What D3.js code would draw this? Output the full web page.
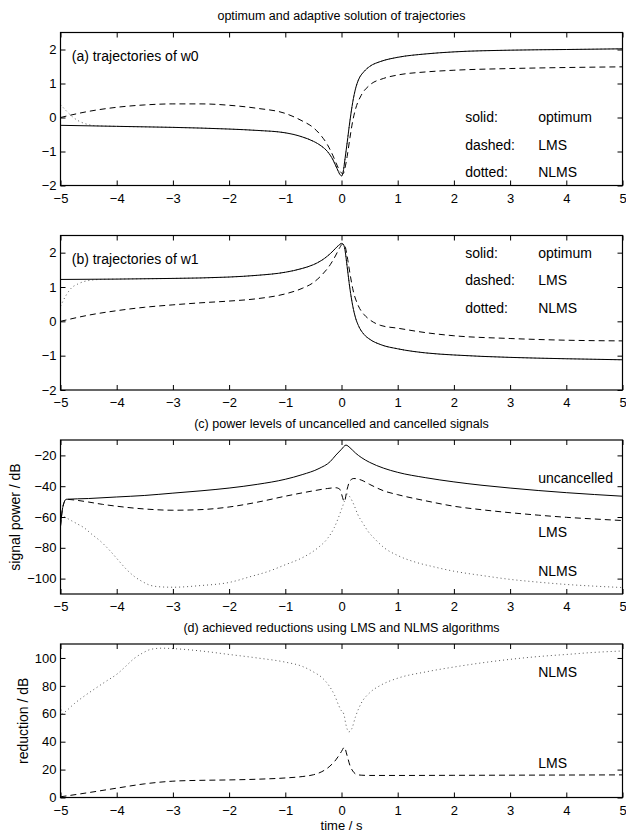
<!DOCTYPE html>
<html>
<head>
<meta charset="utf-8">
<script src="https://cdn.jsdelivr.net/npm/d3@7"></script>
<style>
  html, body { margin: 0; padding: 0; background: #fff; }
  svg { display: block; font-family: "Liberation Sans", Arial, Helvetica, sans-serif; }
</style>
</head>
<body>
<svg id="chart" width="626" height="833"></svg>
<script>
// ---------------- DATA ----------------
const xTicks = [-5, -4, -3, -2, -1, 0, 1, 2, 3, 4, 5];
const wTicks = [-2, -1, 0, 1, 2];
const powerTicks = [-100, -80, -60, -40, -20];
const reductionTicks = [0, 20, 40, 60, 80, 100];

// (a) w0
const tW0opt = [-5, -4, -3, -2, -1.5, -1, -0.7, -0.5, -0.35, -0.25, -0.15, -0.08, -0.03, 0, 0.03, 0.06, 0.1, 0.15, 0.2, 0.25, 0.3, 0.4, 0.5, 0.7, 1, 1.5, 2, 3, 4, 5];
const w0Opt  = [-0.23, -0.26, -0.29, -0.34, -0.38, -0.45, -0.57, -0.7, -0.85, -1.0, -1.25, -1.5, -1.67, -1.72, -1.6, -1.25, -0.75, -0.1, 0.45, 0.85, 1.1, 1.35, 1.5, 1.65, 1.77, 1.87, 1.93, 1.98, 2.0, 2.02];
const tW0lms = [-5, -4.5, -4, -3.5, -3, -2.5, -2, -1.5, -1, -0.7, -0.5, -0.36, -0.25, -0.15, -0.08, -0.02, 0.03, 0.06, 0.1, 0.15, 0.2, 0.25, 0.35, 0.5, 0.75, 1, 1.5, 2, 3, 4, 5];
const w0Lms  = [0.0, 0.18, 0.3, 0.37, 0.4, 0.4, 0.36, 0.27, 0.12, -0.1, -0.3, -0.54, -0.8, -1.13, -1.4, -1.6, -1.65, -1.5, -1.15, -0.6, -0.1, 0.25, 0.65, 0.95, 1.15, 1.25, 1.34, 1.39, 1.44, 1.47, 1.49];
const tW0nlms = [-5, -4.9, -4.8, -4.7, -4.6, -4.5, -4.4, -4, -3, -2, -1.5, -1, -0.7, -0.5, -0.35, -0.25, -0.15, -0.08, -0.03, 0, 0.03, 0.06, 0.1, 0.15, 0.2, 0.25, 0.3, 0.4, 0.5, 0.7, 1, 1.5, 2, 3, 4, 5];
const w0Nlms  = [0.38, 0.2, 0.04, -0.08, -0.16, -0.21, -0.24, -0.26, -0.29, -0.34, -0.38, -0.45, -0.57, -0.7, -0.85, -1.0, -1.25, -1.5, -1.67, -1.72, -1.6, -1.25, -0.75, -0.1, 0.45, 0.85, 1.1, 1.35, 1.5, 1.65, 1.77, 1.87, 1.93, 1.98, 2.0, 2.02];

// (b) w1
const tW1opt = [-5, -4, -3, -2, -1.5, -1, -0.7, -0.5, -0.35, -0.25, -0.15, -0.08, -0.03, 0, 0.03, 0.06, 0.1, 0.15, 0.2, 0.25, 0.3, 0.4, 0.5, 0.7, 1, 1.5, 2, 3, 4, 5];
const w1Opt  = [1.22, 1.23, 1.25, 1.29, 1.34, 1.43, 1.54, 1.65, 1.78, 1.9, 2.05, 2.17, 2.24, 2.27, 2.25, 2.1, 1.6, 0.95, 0.45, 0.1, -0.12, -0.38, -0.52, -0.68, -0.8, -0.92, -0.98, -1.05, -1.09, -1.12];
const tW1lms = [-5, -4.5, -4, -3.5, -3, -2.5, -2, -1.5, -1, -0.7, -0.5, -0.35, -0.2, -0.1, -0.03, 0.02, 0.06, 0.1, 0.15, 0.2, 0.3, 0.4, 0.5, 0.7, 1, 1.5, 2, 3, 4, 5];
const w1Lms  = [0.0, 0.18, 0.31, 0.41, 0.48, 0.54, 0.59, 0.66, 0.8, 0.96, 1.13, 1.35, 1.65, 1.93, 2.15, 2.25, 2.2, 1.9, 1.4, 0.95, 0.45, 0.2, 0.05, -0.12, -0.2, -0.33, -0.42, -0.5, -0.55, -0.57];
const tW1nlms = [-5, -4.9, -4.8, -4.7, -4.6, -4.45, -4.3, -4, -3, -2, -1.5, -1, -0.7, -0.5, -0.35, -0.25, -0.15, -0.08, -0.03, 0, 0.03, 0.06, 0.1, 0.15, 0.2, 0.25, 0.3, 0.4, 0.5, 0.7, 1, 1.5, 2, 3, 4, 5];
const w1Nlms  = [0.44, 0.76, 0.98, 1.08, 1.15, 1.2, 1.22, 1.23, 1.25, 1.29, 1.34, 1.43, 1.54, 1.65, 1.78, 1.9, 2.05, 2.17, 2.24, 2.27, 2.25, 2.1, 1.6, 0.95, 0.45, 0.1, -0.12, -0.38, -0.52, -0.68, -0.8, -0.92, -0.98, -1.05, -1.09, -1.12];

// (c) power levels (dB)
const tUnc = [-5, -4.97, -4.93, -4.9, -4.5, -4, -3.5, -3, -2.5, -2, -1.5, -1, -0.7, -0.4, -0.2, -0.1, 0, 0.08, 0.15, 0.25, 0.35, 0.5, 0.75, 1, 1.5, 2, 2.5, 3, 3.5, 4, 4.5, 5];
const pUnc = [-66, -56, -50, -48.5, -48, -47, -46, -44.5, -43, -41.2, -38.8, -35.5, -32.5, -28.5, -24, -19.8, -16, -13.3, -15, -18.5, -21.3, -24.5, -28.3, -31, -34.5, -37.2, -39.4, -41.2, -42.8, -44.2, -45.4, -46.5];
const tPLms = [-5, -4.97, -4.93, -4.9, -4.7, -4.5, -4.25, -4, -3.5, -3, -2.5, -2, -1.5, -1, -0.5, -0.25, -0.1, -0.03, 0, 0.05, 0.1, 0.15, 0.22, 0.35, 0.5, 0.75, 1, 1.5, 2, 2.5, 3, 3.5, 4, 4.5, 5];
const pLms = [-66, -56, -50, -48.5, -49.2, -50.3, -51.8, -53, -54.8, -55.6, -55.2, -53.5, -50.4, -46.5, -43, -41.5, -41, -42, -45, -50, -42, -36.5, -35, -36, -38.8, -43, -45.5, -49.5, -53, -55.3, -57.2, -58.8, -60.2, -61.3, -62.3];
const tPNlms = [-5, -4.9, -4.8, -4.7, -4.58, -4.45, -4.28, -4.13, -3.98, -3.84, -3.69, -3.54, -3.39, -3.2, -3, -2.5, -2, -1.6, -1.3, -1, -0.7, -0.42, -0.25, -0.13, -0.05, 0, 0.05, 0.1, 0.15, 0.22, 0.29, 0.38, 0.47, 0.6, 0.76, 1, 1.36, 1.6, 2, 2.5, 3, 3.5, 4, 4.5, 5];
const pNlms = [-59, -60.5, -62.5, -64.5, -67, -71, -76, -81.5, -87.7, -93.5, -98.5, -102, -104.5, -105.4, -105.6, -104.5, -102.5, -98.5, -95.3, -91, -86.5, -80, -74, -67, -60, -55, -50, -45, -47, -52, -58.4, -64, -69.2, -74.5, -80, -85, -89.8, -92, -95.2, -98, -100.5, -102.3, -103.8, -104.9, -105.8];

// (d) reductions (dB)
const tRLms = [-5, -4.5, -4, -3.5, -3, -2.5, -2, -1.5, -1, -0.7, -0.5, -0.35, -0.22, -0.1, 0, 0.05, 0.1, 0.15, 0.2, 0.27, 0.35, 0.5, 1, 2, 3, 4, 5];
const rLms = [0.5, 3.5, 6.7, 9.8, 11.7, 12.3, 12.6, 13.1, 14, 15, 16.3, 18.5, 22, 27, 33, 36, 30, 23, 19, 16.5, 16, 15.8, 15.8, 15.9, 16, 16.1, 16.2];
const tRNlms = [-5, -4.97, -4.9, -4.75, -4.6, -4.4, -4.2, -3.98, -3.84, -3.69, -3.54, -3.39, -3.2, -3, -2.5, -2, -1.5, -1, -0.7, -0.5, -0.35, -0.22, -0.12, -0.05, 0, 0.04, 0.08, 0.13, 0.18, 0.25, 0.35, 0.5, 0.7, 1, 1.5, 2, 2.5, 3, 3.5, 4, 4.5, 5];
const rNlms = [66, 60, 62, 67.4, 72, 77.6, 83, 88.9, 94, 99.6, 103.5, 106.2, 107, 106.7, 105, 102.5, 100, 97, 94, 90, 86, 80, 73, 66, 62, 60, 52, 47, 49, 58, 67.5, 75, 80.5, 85.5, 90, 93.5, 96.5, 99, 101, 102.5, 104, 105];

// ---------------- DRAW ----------------
const svg = d3.select("#chart");
const FONT_TICK = 13, FONT_TITLE = 12.5, FONT_TEXT = 14, FONT_LABEL = 14;
const x = d3.scaleLinear().domain([-5, 5]).range([60.5, 622.5]);
const fmt = d3.format("d");

const zip = (ts, vs) => ts.map((t, i) => [t, vs[i]]);

const styles = {
  solid:  { stroke: "#000", dash: null, width: 1 },
  dashed: { stroke: "#000", dash: "6,4", width: 1 },
  dotted: { stroke: "#555", dash: "1,3", width: 1 }
};

function panel(opt) {
  const y = d3.scaleLinear().domain(opt.domain).range([opt.bottom, opt.top]);
  const g = svg.append("g");
  const id = "clip" + opt.name;
  svg.append("clipPath").attr("id", id).append("rect")
    .attr("x", x.range()[0]).attr("y", opt.top)
    .attr("width", x.range()[1] - x.range()[0]).attr("height", opt.bottom - opt.top);

  const line = d3.line().x(d => x(d[0])).y(d => y(d[1])).curve(d3.curveMonotoneX);
  const lg = g.append("g").attr("clip-path", `url(#${id})`);
  opt.series.forEach(s => {
    const st = styles[s.style];
    lg.append("path").datum(zip(s.t, s.v))
      .attr("d", line).attr("fill", "none")
      .attr("stroke", st.stroke).attr("stroke-width", st.width)
      .attr("stroke-dasharray", st.dash);
  });

  // axes with inward ticks on all four sides
  const tk = 5;
  const axB = d3.axisBottom(x).tickValues(xTicks).tickFormat(fmt).tickSizeInner(-tk).tickSizeOuter(0).tickPadding(8);
  const axT = d3.axisTop(x).tickValues(xTicks).tickSizeInner(-tk).tickSizeOuter(0).tickFormat("");
  const axL = d3.axisLeft(y).tickValues(opt.ticks).tickFormat(fmt).tickSizeInner(-tk).tickSizeOuter(0).tickPadding(4);
  const axR = d3.axisRight(y).tickValues(opt.ticks).tickSizeInner(-tk).tickSizeOuter(0).tickFormat("");
  g.append("g").attr("transform", `translate(0,${opt.bottom})`).call(axB);
  g.append("g").attr("transform", `translate(0,${opt.top})`).call(axT);
  g.append("g").attr("transform", `translate(${x.range()[0]},0)`).call(axL);
  g.append("g").attr("transform", `translate(${x.range()[1]},0)`).call(axR);
  g.selectAll(".domain").remove();
  g.selectAll(".tick line").attr("stroke", "#000");
  g.selectAll(".tick text").attr("fill", "#000").style("font-size", FONT_TICK + "px")
    .style("font-family", '"Liberation Sans", Arial, sans-serif');
  // frame
  g.append("rect").attr("x", x.range()[0]).attr("y", opt.top)
    .attr("width", x.range()[1] - x.range()[0]).attr("height", opt.bottom - opt.top)
    .attr("fill", "none").attr("stroke", "#000").attr("stroke-width", 1.2);

  if (opt.title) {
    g.append("text").attr("x", (x.range()[0] + x.range()[1]) / 2).attr("y", opt.top - 12.5)
      .attr("text-anchor", "middle").style("font-size", FONT_TITLE + "px").text(opt.title);
  }
  if (opt.ylabel) {
    g.append("text").attr("transform", `translate(${opt.ylabelX},${(opt.top + opt.bottom) / 2}) rotate(-90)`)
      .attr("text-anchor", "middle").attr("dominant-baseline", "central")
      .style("font-size", FONT_LABEL + "px").text(opt.ylabel);
  }
  (opt.texts || []).forEach(tx => {
    g.append("text").attr("x", x(tx.t)).attr("y", y(tx.v)).attr("dy", "0.35em")
      .style("font-size", FONT_TEXT + "px").text(tx.s);
  });
  return { g, y };
}

const legendA = [
  { t: 2.2, v: 0, s: "solid:" }, { t: 3.5, v: 0, s: "optimum" },
  { t: 2.2, v: -0.8, s: "dashed:" }, { t: 3.5, v: -0.8, s: "LMS" },
  { t: 2.2, v: -1.6, s: "dotted:" }, { t: 3.5, v: -1.6, s: "NLMS" }
];
const legendB = [
  { t: 2.2, v: 2.0, s: "solid:" }, { t: 3.5, v: 2.0, s: "optimum" },
  { t: 2.2, v: 1.2, s: "dashed:" }, { t: 3.5, v: 1.2, s: "LMS" },
  { t: 2.2, v: 0.4, s: "dotted:" }, { t: 3.5, v: 0.4, s: "NLMS" }
];

panel({
  name: "a", top: 32.5, bottom: 185.5, domain: [-2, 2.5], ticks: wTicks,
  title: "optimum and adaptive solution of trajectories",
  series: [
    { t: tW0nlms, v: w0Nlms, style: "dotted" },
    { t: tW0opt, v: w0Opt, style: "solid" },
    { t: tW0lms, v: w0Lms, style: "dashed" }
  ],
  texts: [{ t: -4.8, v: 1.8, s: "(a) trajectories of w0" }].concat(legendA)
});

panel({
  name: "b", top: 235.5, bottom: 390, domain: [-2, 2.5], ticks: wTicks,
  series: [
    { t: tW1nlms, v: w1Nlms, style: "dotted" },
    { t: tW1opt, v: w1Opt, style: "solid" },
    { t: tW1lms, v: w1Lms, style: "dashed" }
  ],
  texts: [{ t: -4.8, v: 1.8, s: "(b) trajectories of w1" }].concat(legendB)
});

panel({
  name: "c", top: 440, bottom: 594, domain: [-110, -10], ticks: powerTicks,
  title: "(c) power levels of uncancelled and cancelled signals",
  ylabel: "signal power / dB", ylabelX: 15,
  series: [
    { t: tPNlms, v: pNlms, style: "dotted" },
    { t: tUnc, v: pUnc, style: "solid" },
    { t: tPLms, v: pLms, style: "dashed" }
  ],
  texts: [
    { t: 3.5, v: -35, s: "uncancelled" },
    { t: 3.5, v: -70, s: "LMS" },
    { t: 3.5, v: -95, s: "NLMS" }
  ]
});

panel({
  name: "d", top: 644, bottom: 797.5, domain: [0, 110], ticks: reductionTicks,
  title: "(d) achieved reductions using LMS and NLMS algorithms",
  ylabel: "reduction / dB", ylabelX: 23,
  series: [
    { t: tRNlms, v: rNlms, style: "dotted" },
    { t: tRLms, v: rLms, style: "dashed" }
  ],
  texts: [
    { t: 3.5, v: 90, s: "NLMS" },
    { t: 3.5, v: 25, s: "LMS" }
  ]
});

svg.append("text").attr("x", (x.range()[0] + x.range()[1]) / 2).attr("y", 830)
  .attr("text-anchor", "middle").style("font-size", "13px").text("time / s");
</script>
</body>
</html>
